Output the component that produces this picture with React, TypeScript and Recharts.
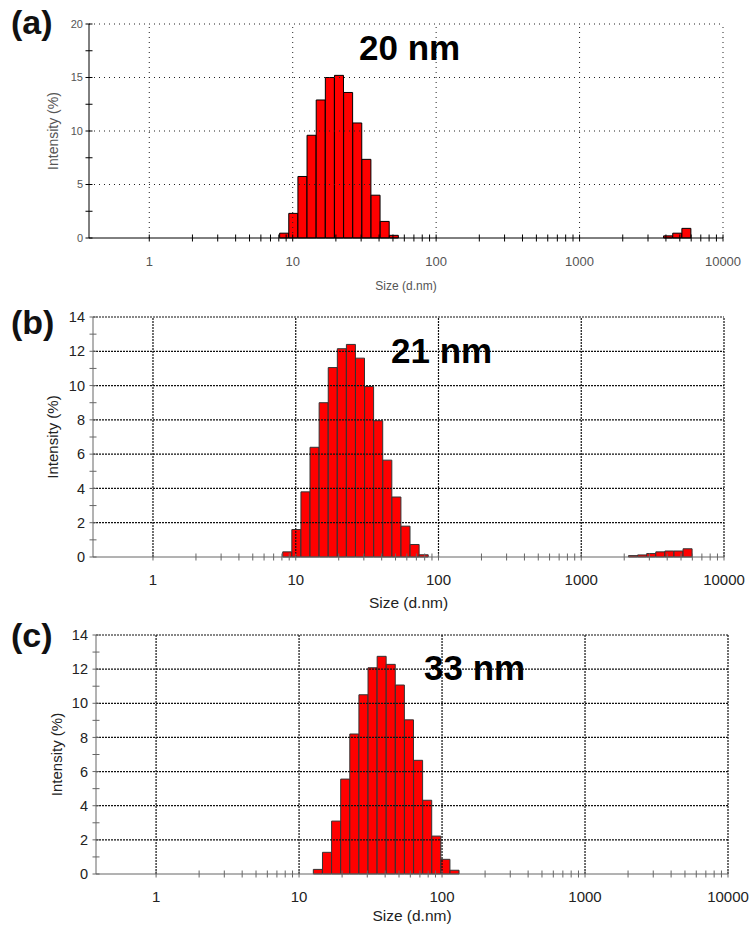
import React from 'react';
import { BarChart, Bar, XAxis, YAxis, ReferenceLine, Label } from 'recharts';

// size bins (d.nm) and intensity (%)
const sizesA = [8.721, 10.1, 11.7, 13.54, 15.69, 18.17, 21.04, 24.36, 28.21, 32.67, 37.84, 43.82, 50.75, 4145, 4801, 5560];
const intensityA = [0.45, 2.3, 5.75, 9.6, 12.9, 15.0, 15.2, 13.6, 10.75, 7.35, 4.0, 1.55, 0.25, 0.2, 0.45, 0.9];

const sizesB = [8.721, 10.1, 11.7, 13.54, 15.69, 18.17, 21.04, 24.36, 28.21, 32.67, 37.84, 43.82, 50.75, 58.77, 68.06, 78.82, 2305, 2669, 3091, 3580, 4145, 4801, 5560];
const intensityB = [0.3, 1.6, 3.8, 6.4, 9.0, 11.05, 12.15, 12.4, 11.6, 9.95, 7.95, 5.65, 3.5, 1.8, 0.73, 0.13, 0.08, 0.12, 0.2, 0.3, 0.35, 0.35, 0.48];

const sizesC = [13.54, 15.69, 18.17, 21.04, 24.36, 28.21, 32.67, 37.84, 43.82, 50.75, 58.77, 68.06, 78.82, 91.28, 105.7, 122.4];
const intensityC = [0.27, 1.27, 3.1, 5.56, 8.2, 10.5, 12.08, 12.75, 12.28, 11.07, 9.03, 6.66, 4.32, 2.22, 0.86, 0.22];

const decadeTicks = [1, 10, 100, 1000, 10000];
const minorTicks = [
  2, 3, 4, 5, 6, 7, 8, 9,
  20, 30, 40, 50, 60, 70, 80, 90,
  200, 300, 400, 500, 600, 700, 800, 900,
  2000, 3000, 4000, 5000, 6000, 7000, 8000, 9000,
];
const xTicks = [...decadeTicks, ...minorTicks].sort((a, b) => a - b);

const yTicksA = [0, 2.5, 5, 7.5, 10, 12.5, 15, 17.5, 20];
const yLabelsA = [0, 5, 10, 15, 20];
const yGridA = [5, 10, 15, 20];

const yTicksBC = [0, 1, 2, 3, 4, 5, 6, 7, 8, 9, 10, 11, 12, 13, 14];
const yLabelsBC = [0, 2, 4, 6, 8, 10, 12, 14];
const yGridBC = [2, 4, 6, 8, 10, 12, 14];

const ARIAL = "'Liberation Sans', Arial, sans-serif";

const styleA = {
  axis: '#000',
  grid: '#222',
  gridDash: '1 4',
  gridWidth: 1,
  barStroke: '#000',
  text: '#555',
  xTickSize: 13,
  yTickSize: 11,
  xTitleSize: 12,
  yTitleSize: 14,
  yTickGap: 6,
};

const styleBC = {
  axis: '#666',
  grid: '#111',
  gridDash: '2 1',
  gridWidth: 1.2,
  barStroke: '#333',
  text: '#222',
  xTickSize: 15,
  yTickSize: 14.5,
  xTitleSize: 15.5,
  yTitleSize: 15,
  yTickGap: 8,
};

const panels = [
  {
    key: 'a', sizes: sizesA, values: intensityA, yMax: 20,
    yTicks: yTicksA, yLabels: yLabelsA, yGrid: yGridA, st: styleA,
    top: 0, height: 300, margin: { top: 24, right: 32, left: 29, bottom: 0 }, xAxisH: 62,
    xTitleDy: 52, yTitleX: 53, tag: '(a)', tagTop: 2, note: '20 nm', noteX: 359, noteTop: 28,
  },
  {
    key: 'b', sizes: sizesB, values: intensityB, yMax: 14,
    yTicks: yTicksBC, yLabels: yLabelsBC, yGrid: yGridBC, st: styleBC,
    top: 300, height: 320, margin: { top: 17, right: 31, left: 33, bottom: 0 }, xAxisH: 63,
    xTitleDy: 51, yTitleX: 53, tag: '(b)', tagTop: 302, note: '21 nm', noteX: 391, noteTop: 331,
  },
  {
    key: 'c', sizes: sizesC, values: intensityC, yMax: 14,
    yTicks: yTicksBC, yLabels: yLabelsBC, yGrid: yGridBC, st: styleBC,
    top: 620, height: 310, margin: { top: 15, right: 27, left: 36, bottom: 0 }, xAxisH: 56,
    xTitleDy: 47, yTitleX: 57, tag: '(c)', tagTop: 615, note: '33 nm', noteX: 424, noteTop: 648,
  },
];

const XTick = (props: any) => {
  const { x, y, payload, st } = props;
  const major = decadeTicks.includes(payload.value);
  return (
    <g>
      <line x1={x} x2={x} y1={y - 3.5} y2={y + 3.5} stroke={st.axis} />
      {major && (
        <text x={x} y={y + 28} textAnchor="middle" fill={st.text} fontSize={st.xTickSize} fontFamily={ARIAL}>
          {payload.value}
        </text>
      )}
    </g>
  );
};

const YTick = (props: any) => {
  const { x, y, payload, st, labels } = props;
  const show = labels.includes(payload.value);
  return (
    <g>
      <line x1={x - 3.5} x2={x + 3.5} y1={y} y2={y} stroke={st.axis} />
      {show && (
        <text x={x - st.yTickGap} y={y} dy="0.35em" textAnchor="end" fill={st.text} fontSize={st.yTickSize} fontFamily={ARIAL}>
          {payload.value}
        </text>
      )}
    </g>
  );
};

const Panel = ({ p }: { p: any }) => {
  const data = p.sizes.map((s: number, i: number) => ({ size: s, intensity: p.values[i] }));
  const st = p.st;
  return (
    <BarChart width={755} height={p.height} data={data} margin={p.margin} barCategoryGap={0}>
      {decadeTicks.map((v) => (
        <ReferenceLine key={'vx' + v} x={v} stroke={st.grid} strokeWidth={st.gridWidth} strokeDasharray={st.gridDash} />
      ))}
      {p.yGrid.map((v: number) => (
        <ReferenceLine key={'hy' + v} y={v} stroke={st.grid} strokeWidth={st.gridWidth} strokeDasharray={st.gridDash} />
      ))}
      <XAxis
        dataKey="size"
        type="number"
        scale="log"
        domain={[0.38, 10000]}
        allowDataOverflow
        ticks={xTicks}
        interval={0}
        tickSize={0}
        tickMargin={0}
        height={p.xAxisH}
        stroke={st.axis}
        tick={(tp: any) => <XTick {...tp} st={st} />}
      >
        <Label
          content={(lp: any) => {
            const vb = lp.viewBox || { x: 0, y: 0, width: 0 };
            return (
              <text x={vb.x + vb.width / 2} y={vb.y + p.xTitleDy} textAnchor="middle" fill={st.text} fontSize={st.xTitleSize} fontFamily={ARIAL}>
                Size (d.nm)
              </text>
            );
          }}
        />
      </XAxis>
      <YAxis
        type="number"
        domain={[0, p.yMax]}
        ticks={p.yTicks}
        interval={0}
        tickSize={0}
        tickMargin={0}
        width={60}
        stroke={st.axis}
        tick={(tp: any) => <YTick {...tp} st={st} labels={p.yLabels} />}
      >
        <Label
          content={(lp: any) => {
            const vb = lp.viewBox || { y: 0, height: 0 };
            const cy = vb.y + vb.height / 2;
            return (
              <text x={p.yTitleX} y={cy} dy="0.35em" textAnchor="middle" transform={`rotate(-90 ${p.yTitleX} ${cy})`} fill={st.text} fontSize={st.yTitleSize} fontFamily={ARIAL}>
                Intensity (%)
              </text>
            );
          }}
        />
      </YAxis>
      <Bar dataKey="intensity" fill="#ff0000" stroke={st.barStroke} strokeWidth={1} isAnimationActive={false} />
    </BarChart>
  );
};

export default function App() {
  return (
    <div style={{ position: 'absolute', left: 0, top: 0, width: 755, height: 930, background: '#fff' }}>
      {panels.map((p) => (
        <div key={p.key} style={{ position: 'absolute', left: 0, top: p.top }}>
          <Panel p={p} />
        </div>
      ))}
      {panels.map((p) => (
        <div
          key={'tag' + p.key}
          style={{ position: 'absolute', left: 11, top: p.tagTop, fontFamily: ARIAL, fontWeight: 'bold', fontSize: 34, lineHeight: '40px', color: '#111' }}
        >
          {p.tag}
        </div>
      ))}
      {panels.map((p) => (
        <div
          key={'note' + p.key}
          style={{ position: 'absolute', left: p.noteX, top: p.noteTop, fontFamily: ARIAL, fontWeight: 'bold', fontSize: 35, lineHeight: '40px', color: '#000' }}
        >
          {p.note}
        </div>
      ))}
    </div>
  );
}
